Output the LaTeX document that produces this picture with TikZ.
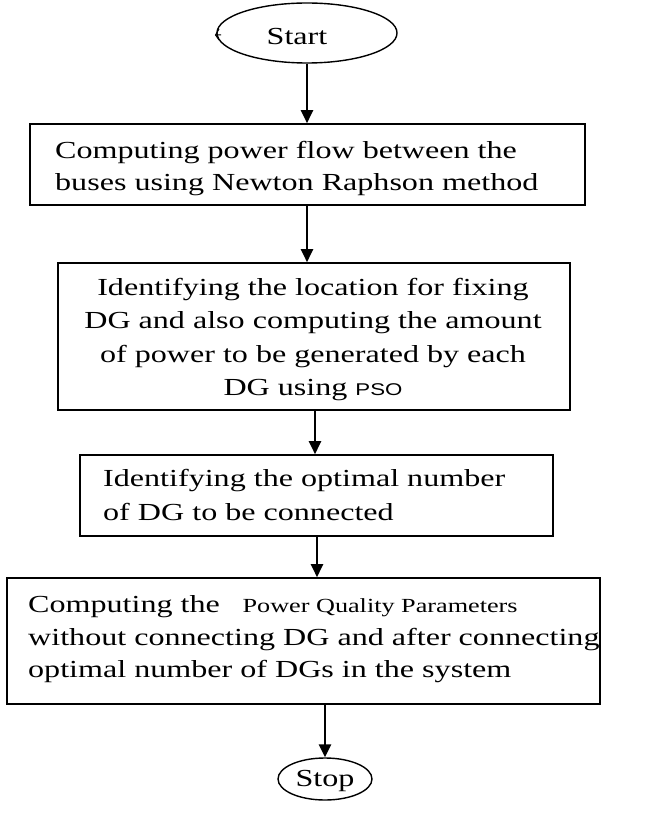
\documentclass[tikz,border=0pt]{standalone}
\usepackage{fontspec}
\setmainfont{Liberation Serif}[FakeStretch=1.31]
\newfontfamily\psofont{Liberation Sans}[FakeStretch=1.31]
\usetikzlibrary{shapes.geometric,arrows.meta}
\begin{document}
\begin{tikzpicture}[x=1pt,y=-1pt,
  boxst/.style={draw, line width=1.6pt, rectangle, inner sep=0pt},
  termst/.style={draw, line width=1.4pt, ellipse, inner sep=0pt},
  txt/.style={inner sep=0pt, font=\fontsize{24.5}{33}\selectfont},
  flow/.style={line width=2.4pt, -{Triangle[length=13pt,width=12pt]}}]
\useasboundingbox (0,0) rectangle (646,813);
% terminals
\node[termst, minimum width=180pt, minimum height=60pt] (start) at (307,33) {};
\node[txt, anchor=base] (starttxt) at (297,44.5) {Start};
\draw[line width=1pt] (219,29) -- (215.5,35) -- (219,40) (215.5,35) -- (221,35);
\node[termst, minimum width=94pt, minimum height=42pt] (stop) at (325,779) {};
\node[txt, anchor=base] (stoptxt) at (325,786) {Stop};
% boxes
\node[boxst, minimum width=555pt, minimum height=81pt] (b1) at (307.5,164.5) {};
\node[txt, anchor=north west, align=left, font=\fontsize{24.5}{32.5}\selectfont] (t1) at (55,140.8)
  {Computing power flow between the\\buses using Newton Raphson method};
\node[boxst, minimum width=512pt, minimum height=147pt] (b2) at (314,336.5) {};
\node[txt, anchor=north, align=center, font=\fontsize{24.5}{33.5}\selectfont] (t2) at (313,277.6)
  {Identifying the location for fixing\\DG and also computing the amount\\of power to be generated by each\\DG using {\psofont\fontsize{17}{20}\selectfont PSO}};
\node[boxst, minimum width=473pt, minimum height=81pt] (b3) at (316.5,495.5) {};
\node[txt, anchor=north west, align=left, font=\fontsize{24.5}{34}\selectfont] (t3) at (103,469.3)
  {Identifying the optimal number\\of DG to be connected};
\node[boxst, minimum width=593pt, minimum height=126pt] (b4) at (303.5,641) {};
\node[txt, anchor=north west, align=left, font=\fontsize{24.5}{32.8}\selectfont] (t4) at (28,595)
  {Computing the \hspace{0.6em}{\fontsize{20}{24}\selectfont Power Quality Parameters}\\without connecting DG and after connecting\\optimal number of DGs in the system};
% connectors
\draw[flow] (start.south) -- (b1.north -| start.south);
\draw[flow] (b1.south -| start.south) -- (b2.north -| start.south);
\draw[flow] (b2.south -| 315,0) -- (b3.north -| 315,0);
\draw[flow] (b3.south -| 317,0) -- (b4.north -| 317,0);
\draw[flow] (b4.south -| stop.north) -- (stop.north);
\end{tikzpicture}
\end{document}
